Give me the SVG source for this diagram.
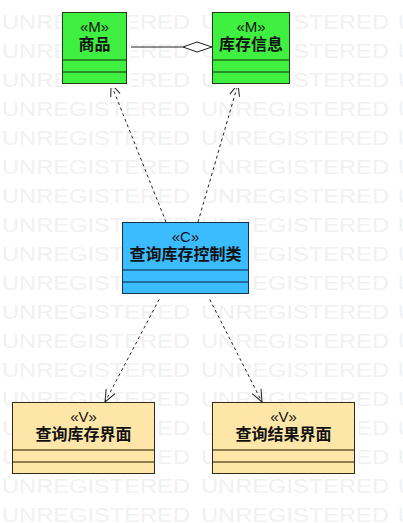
<svg xmlns="http://www.w3.org/2000/svg" width="403" height="523" viewBox="0 0 403 523">
  <style>
    .wm { font-family: "Liberation Sans", Arial, sans-serif; font-size: 21px; fill: #f1f1f1; }
    .shadow { fill: #fcfcfc; }
    .box { stroke-width: 1; }
    .m { fill: #40f040; stroke: #1b3d1b; }
    .m-line { stroke: #1f6e1f; stroke-width: 1.5; }
    .c { fill: #3bbcff; stroke: #14324a; }
    .c-line { stroke: #1a5580; stroke-width: 1.5; }
    .v { fill: #fde6a8; stroke: #2e2a20; }
    .v-line { stroke: #6b5a30; stroke-width: 1.5; }
    .stereo { font-family: "Liberation Sans", Arial, sans-serif; font-size: 15px; fill: #111; text-anchor: middle; }
    .name { font-family: "Liberation Sans", "Noto Sans CJK SC", sans-serif; font-size: 16px; font-weight: bold; fill: #111; text-anchor: middle; }
    .dep { stroke: #222; stroke-width: 1; stroke-dasharray: 3 3; fill: none; }
    .assoc { stroke: #222; stroke-width: 1; fill: none; }
  </style>
  <defs>
    <marker id="open-arrow" viewBox="0 0 14 14" refX="13" refY="7" markerWidth="14" markerHeight="14" markerUnits="userSpaceOnUse" orient="auto">
      <path d="M1,2 L13,7 L1,12" fill="none" stroke="#222" stroke-width="1"/>
    </marker>
  </defs>

  <rect width="403" height="523" fill="#ffffff"/>

  <!-- watermark rows -->
  <g id="watermark">
    <g id="wm-row">
      <text class="wm" x="2" y="29" textLength="188" lengthAdjust="spacingAndGlyphs">UNREGISTERED</text>
      <text class="wm" x="201" y="29" textLength="188" lengthAdjust="spacingAndGlyphs">UNREGISTERED</text>
      <text class="wm" x="398" y="29">U</text>
    </g>
    <use href="#wm-row" y="29"/>
    <use href="#wm-row" y="58"/>
    <use href="#wm-row" y="87"/>
    <use href="#wm-row" y="116"/>
    <use href="#wm-row" y="145"/>
    <use href="#wm-row" y="174"/>
    <use href="#wm-row" y="203"/>
    <use href="#wm-row" y="232"/>
    <use href="#wm-row" y="261"/>
    <use href="#wm-row" y="290"/>
    <use href="#wm-row" y="319"/>
    <use href="#wm-row" y="348"/>
    <use href="#wm-row" y="377"/>
    <use href="#wm-row" y="406"/>
    <use href="#wm-row" y="435"/>
    <use href="#wm-row" y="464"/>
    <use href="#wm-row" y="493"/>
  </g>

  <!-- connectors -->
  <g id="connectors">
    <line class="assoc" x1="126" y1="47" x2="183" y2="47"/>
    <path d="M183,47 L197,42 L212,47 L197,52 Z" fill="#ffffff" stroke="#222" stroke-width="1"/>
    <line class="dep" x1="166" y1="222" x2="111" y2="84" marker-end="url(#open-arrow)"/>
    <line class="dep" x1="198" y1="222" x2="238" y2="84" marker-end="url(#open-arrow)"/>
    <line class="dep" x1="162" y1="294" x2="105" y2="402" marker-end="url(#open-arrow)"/>
    <line class="dep" x1="207" y1="294" x2="262" y2="402" marker-end="url(#open-arrow)"/>
  </g>

  <!-- model: 商品 -->
  <g id="node-goods">
    <rect class="shadow" x="67" y="17" width="64" height="71"/>
    <rect class="box m" x="62.5" y="12.5" width="64" height="71"/>
    <line class="m-line" x1="63" y1="60" x2="126" y2="60"/>
    <line class="m-line" x1="63" y1="72" x2="126" y2="72"/>
    <text class="stereo" x="94.5" y="32">«M»</text>
    <text class="name" x="94.5" y="49.5">商品</text>
  </g>

  <!-- model: 库存信息 -->
  <g id="node-stock">
    <rect class="shadow" x="217" y="17" width="77" height="71"/>
    <rect class="box m" x="212.5" y="12.5" width="77" height="71"/>
    <line class="m-line" x1="213" y1="60" x2="289" y2="60"/>
    <line class="m-line" x1="213" y1="72" x2="289" y2="72"/>
    <text class="stereo" x="251" y="32">«M»</text>
    <text class="name" x="251" y="49.5">库存信息</text>
  </g>

  <!-- control: 查询库存控制类 -->
  <g id="node-control">
    <rect class="shadow" x="127" y="227" width="126" height="71"/>
    <rect class="box c" x="122.5" y="222.5" width="126" height="71"/>
    <line class="c-line" x1="123" y1="270" x2="248" y2="270"/>
    <line class="c-line" x1="123" y1="282" x2="248" y2="282"/>
    <text class="stereo" x="185.5" y="242">«C»</text>
    <text class="name" x="185.5" y="259.5">查询库存控制类</text>
  </g>

  <!-- view: 查询库存界面 -->
  <g id="node-query-view">
    <rect class="shadow" x="17" y="407" width="142" height="71"/>
    <rect class="box v" x="12.5" y="402.5" width="142" height="71"/>
    <line class="v-line" x1="13" y1="450" x2="154" y2="450"/>
    <line class="v-line" x1="13" y1="462" x2="154" y2="462"/>
    <text class="stereo" x="83.5" y="422">«V»</text>
    <text class="name" x="83.5" y="439.5">查询库存界面</text>
  </g>

  <!-- view: 查询结果界面 -->
  <g id="node-result-view">
    <rect class="shadow" x="217" y="407" width="142" height="71"/>
    <rect class="box v" x="212.5" y="402.5" width="142" height="71"/>
    <line class="v-line" x1="213" y1="450" x2="354" y2="450"/>
    <line class="v-line" x1="213" y1="462" x2="354" y2="462"/>
    <text class="stereo" x="283.5" y="422">«V»</text>
    <text class="name" x="283.5" y="439.5">查询结果界面</text>
  </g>
</svg>
